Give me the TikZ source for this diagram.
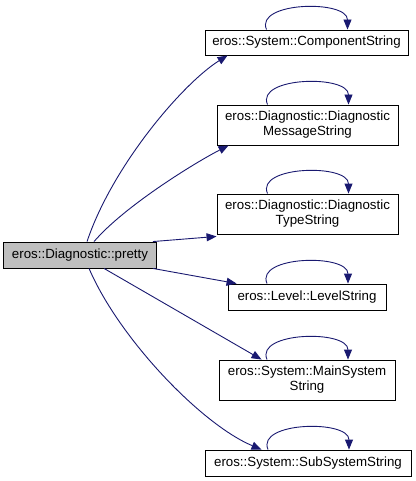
\documentclass[tikz,border=0pt]{standalone}
\usepackage{fontspec}
\setmainfont{Liberation Sans}
\usetikzlibrary{arrows.meta}
\definecolor{edgeblue}{HTML}{191970}
\definecolor{mainfill}{HTML}{BFBFBF}
\begin{document}
\begin{tikzpicture}[x=1pt,y=-1pt,
  box/.style={draw=black,line width=0.9pt,fill=white,inner sep=0pt,align=center,font=\fontsize{13.3}{15}\selectfont},
  edge/.style={draw=edgeblue,line width=0.9pt,-{Triangle[length=10pt,width=8pt]}},
  loopedge/.style={edge}]
\useasboundingbox (0,0) rectangle (415,481);
\node[box,fill=mainfill,minimum width=153pt,minimum height=26pt] (main) at (80,255) {eros::Diagnostic::pretty};
\node[box,minimum width=203pt,minimum height=25pt] (comp) at (306.5,42.5) {eros::System::ComponentString};
\node[box,minimum width=181pt,minimum height=40pt] (msg) at (307.5,125) {eros::Diagnostic::Diagnostic\\MessageString};
\node[box,minimum width=181pt,minimum height=40pt] (type) at (307.5,214) {eros::Diagnostic::Diagnostic\\TypeString};
\node[box,minimum width=158pt,minimum height=26pt] (level) at (307,297) {eros::Level::LevelString};
\node[box,minimum width=176pt,minimum height=40pt] (mainsys) at (307,380) {eros::System::MainSystem\\String};
\node[box,minimum width=206pt,minimum height=26pt] (subsys) at (308,463) {eros::System::SubSystemString};
% edges from main
\draw[edge] ([xshift=84pt]main.north west) .. controls +(25,-75) and +(-45,28) .. ([xshift=23pt]comp.south west);
\draw[edge] ([xshift=91pt]main.north west) .. controls +(30,-35) and +(-35,18) .. ([xshift=12pt]msg.south west);
\draw[edge] ([xshift=-4pt]main.north east) -- ([yshift=-2pt]type.south west);
\draw[edge] ([xshift=-4pt]main.south east) -- ([xshift=9pt]level.north west);
\draw[edge] ([xshift=101pt]main.south west) -- ([xshift=43pt]mainsys.north west);
\draw[edge] ([xshift=86pt]main.south west) .. controls +(30,70) and +(-60,-25) .. ([xshift=57pt]subsys.north west);
% self loops
\foreach \n in {comp,msg,type,level,mainsys,subsys}{
  \draw[loopedge] ([xshift=-40pt]\n.north) .. controls +(-12,-28) and +(0,-30) .. ([xshift=41pt]\n.north);
}
\end{tikzpicture}
\end{document}
